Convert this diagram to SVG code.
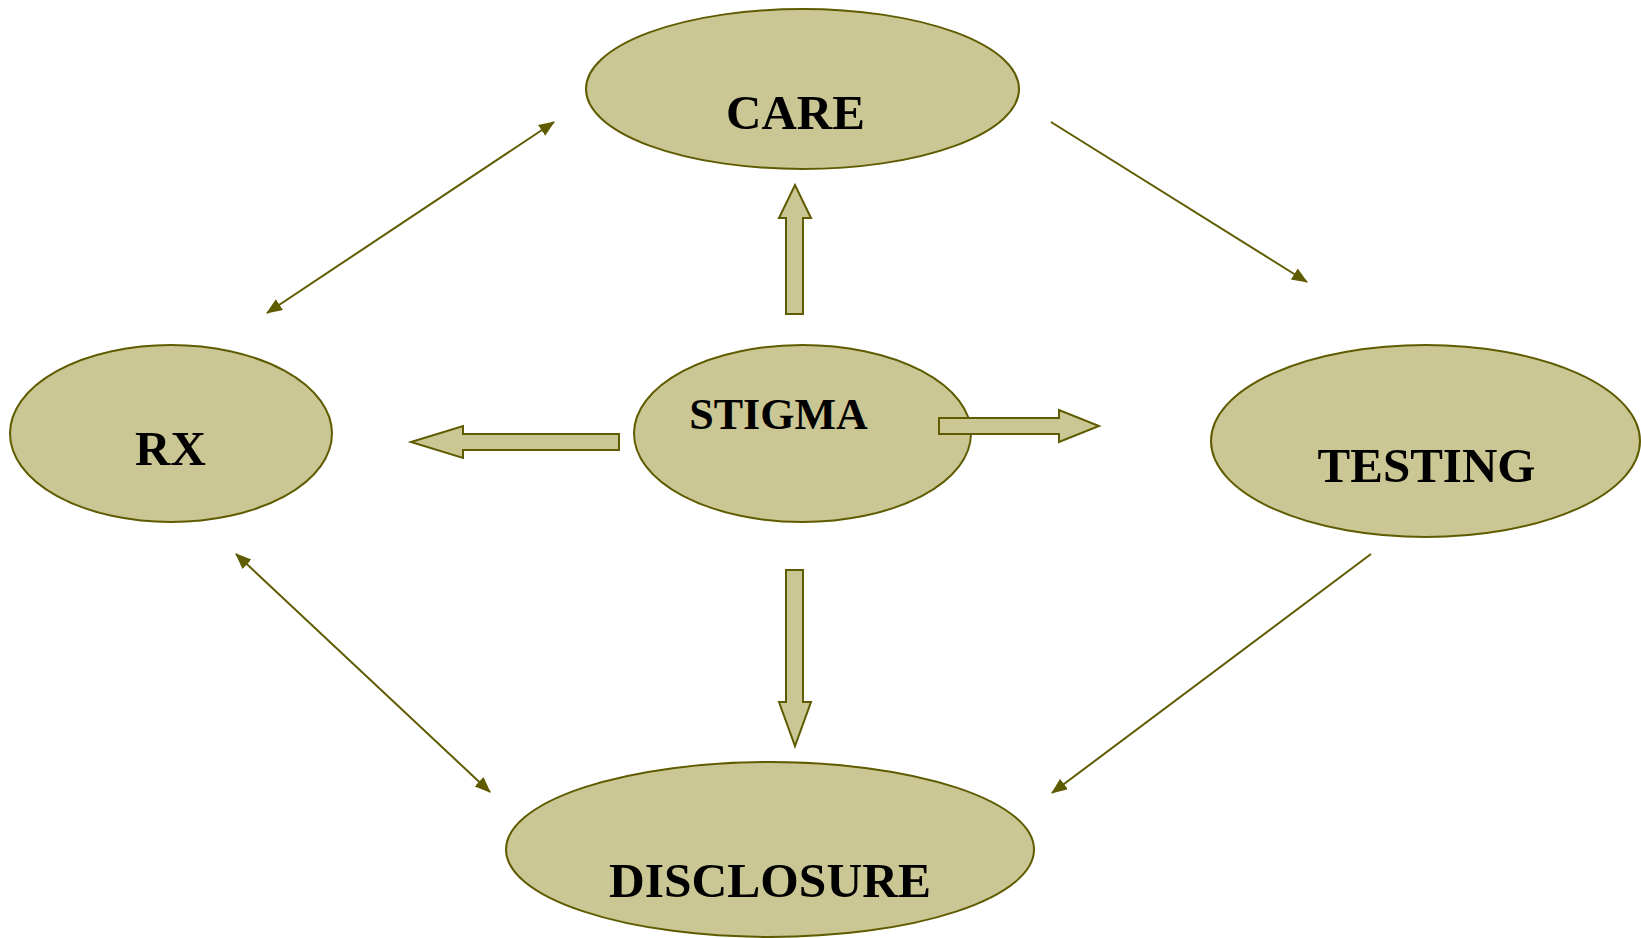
<svg xmlns="http://www.w3.org/2000/svg" width="1641" height="938" viewBox="0 0 1641 938">
<style>
.node{fill:#CBC794;stroke:#5F5B00;stroke-width:2}
.lbl{font-family:"Liberation Serif",serif;font-weight:bold;fill:#000;text-anchor:middle}
.conn{stroke:#5F5B00;stroke-width:2;fill:none}
.block{fill:#CBC794;stroke:#5F5B00;stroke-width:2;stroke-linejoin:miter}
</style>
<defs>
<marker id="ah" markerUnits="userSpaceOnUse" markerWidth="16" markerHeight="14" refX="15" refY="6.5" orient="auto-start-reverse">
<path d="M0,0 L16,6.5 L0,13 z" fill="#5F5B00"/>
</marker>
</defs>
<rect width="1641" height="938" fill="#fff"/>
<g id="care"><ellipse class="node" cx="802.5" cy="89" rx="216.5" ry="80"/><text class="lbl" x="795.5" y="129" font-size="49">CARE</text></g>
<g id="rx"><ellipse class="node" cx="171" cy="433.5" rx="161" ry="88.5"/><text class="lbl" x="170.5" y="465" font-size="49">RX</text></g>
<g id="testing"><ellipse class="node" cx="1425.5" cy="441" rx="214.5" ry="96"/><text class="lbl" x="1426.5" y="482" font-size="49">TESTING</text></g>
<g id="disclosure"><ellipse class="node" cx="770" cy="849.5" rx="264" ry="87.5"/><text class="lbl" x="770" y="897" font-size="49.5">DISCLOSURE</text></g>
<g id="stigma"><ellipse class="node" cx="802.5" cy="433.5" rx="168.5" ry="88.5"/><text class="lbl" x="778.5" y="429" font-size="44">STIGMA</text></g>
<g id="connectors">
<line class="conn" x1="267" y1="313" x2="554" y2="122" marker-start="url(#ah)" marker-end="url(#ah)"/>
<line class="conn" x1="1051" y1="122" x2="1307" y2="282" marker-end="url(#ah)"/>
<line class="conn" x1="236" y1="554" x2="490" y2="792" marker-start="url(#ah)" marker-end="url(#ah)"/>
<line class="conn" x1="1371" y1="554" x2="1052" y2="793" marker-end="url(#ah)"/>
<polygon class="block" points="795,185 811,218 803,218 803,314 786,314 786,218 779,218"/>
<polygon class="block" points="786,570 803,570 803,702 811,702 795,746 779,702 786,702"/>
<polygon class="block" points="411,442 463,426 463,434 619,434 619,450 463,450 463,458"/>
<polygon class="block" points="939,418 1059,418 1059,410 1099,426 1059,442 1059,434 939,434"/>
</g>
</svg>
